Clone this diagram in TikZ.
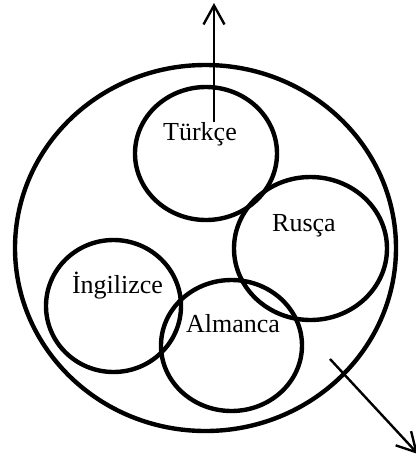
\documentclass[tikz,border=0pt]{standalone}
\usepackage{fontspec}
\setmainfont{Liberation Serif}
\usetikzlibrary{shapes.geometric,arrows.meta}
\begin{document}
\begin{tikzpicture}[x=1pt,y=-1pt,
  ring/.style={draw=black,line width=4.4pt,ellipse,inner sep=0pt,outer sep=0pt},
  lbl/.style={inner sep=0pt,anchor=base,font=\fontsize{26}{28}\selectfont},
  arr/.style={line width=2.4pt,-{Straight Barb[length=19pt,width=21pt,line width=2.4pt]}}]
\useasboundingbox (0,0) rectangle (416,459);
\node[ring,minimum width=381pt,minimum height=366pt] (outer) at (205.5,248) {};
\node[ring,minimum width=142pt,minimum height=133pt] (tr) at (206,153.5) {};
\node[ring,minimum width=153pt,minimum height=143pt] (ru) at (310.5,248.5) {};
\node[ring,minimum width=135pt,minimum height=132pt] (en) at (113.5,306) {};
\node[ring,minimum width=141pt,minimum height=131pt] (de) at (231.5,345.5) {};
\node[lbl] (trl) at (200,140) {Türkçe};
\node[lbl] (rul) at (304,231) {Rusça};
\node[lbl] (enl) at (117.5,293) {İngilizce};
\node[lbl] (del) at (233,332) {Almanca};
\coordinate (a1) at (214,122);
\coordinate (a2) at (214,3);
\coordinate (b1) at (330,359);
\coordinate (b2) at (418,454);
\draw[arr] (a1) -- (a2);
\draw[arr] (b1) -- (b2);
\end{tikzpicture}
\end{document}
